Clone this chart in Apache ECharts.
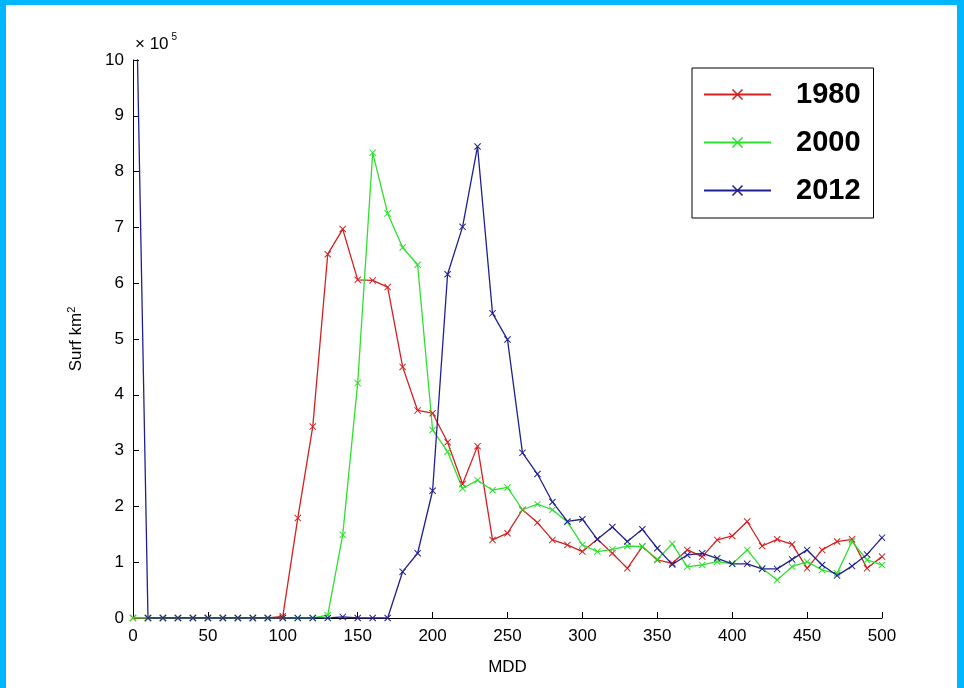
<!DOCTYPE html>
<html>
<head>
<meta charset="utf-8">
<title>Surf vs MDD</title>
<script src="https://cdn.jsdelivr.net/npm/echarts@6/dist/echarts.min.js"></script>
<style>
  html, body { margin: 0; padding: 0; }
  body { width: 964px; height: 688px; background: #00b7ff; position: relative; overflow: hidden; }
  #chart { position: absolute; left: 6px; top: 5px; width: 951px; height: 683px; background: #fff; }
</style>
</head>
<body>
<div id="chart"></div>
<script>
// MDD (x) values
const mdd = [0, 10, 20, 30, 40, 50, 60, 70, 80, 90,
  100, 110, 120, 130, 140, 150, 160, 170, 180, 190,
  200, 210, 220, 230, 240, 250, 260, 270, 280, 290,
  300, 310, 320, 330, 340, 350, 360, 370, 380, 390,
  400, 410, 420, 430, 440, 450, 460, 470, 480, 490, 500]

// surfaces, unit 1e5 km2
const surf1980 = [0, 0, 0, 0, 0, 0, 0, 0, 0, 0,
  0.03, 1.79, 3.43, 6.52, 6.97, 6.06, 6.05, 5.93, 4.50, 3.72,
  3.67, 3.15, 2.40, 3.08, 1.40, 1.52, 1.94, 1.71, 1.40, 1.31,
  1.19, 1.41, 1.16, 0.89, 1.28, 1.04, 0.98, 1.22, 1.10, 1.40,
  1.47, 1.73, 1.29, 1.41, 1.32, 0.89, 1.22, 1.37, 1.41, 0.89, 1.10]

const surf2000 = [0, 0, 0, 0, 0, 0, 0, 0, 0, 0,
  0, 0, 0, 0.05, 1.49, 4.21, 8.34, 7.25, 6.64, 6.33,
  3.37, 2.98, 2.32, 2.47, 2.29, 2.34, 1.94, 2.04, 1.94, 1.72,
  1.31, 1.19, 1.23, 1.29, 1.28, 1.05, 1.33, 0.92, 0.95, 1.01,
  0.97, 1.22, 0.89, 0.68, 0.92, 1.01, 0.86, 0.80, 1.37, 1.04, 0.95]

const surf2012 = [14.3, 0, 0, 0, 0, 0, 0, 0, 0, 0,
  0, 0, 0, 0, 0.02, 0, 0, 0, 0.83, 1.16,
  2.28, 6.16, 7.01, 8.45, 5.46, 4.99, 2.96, 2.58, 2.08, 1.73,
  1.77, 1.41, 1.63, 1.37, 1.59, 1.25, 0.96, 1.13, 1.16, 1.07,
  0.97, 0.97, 0.88, 0.88, 1.05, 1.22, 0.95, 0.76, 0.93, 1.14, 1.44]

const seriesNames = ['1980', '2000', '2012']
const seriesColors = ['#d42020', '#2ee02e', '#20208e']
const xTicks = [0, 50, 100, 150, 200, 250, 300, 350, 400, 450, 500]

// x shaped marker (filled outline so it shows at small sizes)
const crossSymbol = 'path://M0,1L1,0L5,4L9,0L10,1L6,5L10,9L9,10L5,6L1,10L0,9L4,5Z'

const chart = echarts.init(document.getElementById('chart'))

const toPairs = vals => mdd.map((x, i) => [x, vals[i]])

const allData = [surf1980, surf2000, surf2012]
const seriesArr = allData.map((vals, i) => {
  return {
    name: seriesNames[i],
    type: 'line',
    data: toPairs(vals),
    symbol: crossSymbol,
    symbolSize: 7,
    showAllSymbol: true,
    clip: true,
    lineStyle: { color: seriesColors[i], width: 1.3 },
    itemStyle: { color: seriesColors[i] },
    emphasis: { disabled: true },
    animation: false
  }
})

const axisFont = { fontFamily: 'Liberation Sans, Arial, sans-serif', fontSize: 17, color: '#000' }

chart.setOption({
  backgroundColor: '#fff',
  animation: false,
  title: {
    text: '× 10{s|5}',
    left: 124,
    top: 22,
    textStyle: {
      fontFamily: 'Liberation Sans, Arial, sans-serif',
      fontSize: 17,
      fontWeight: 'normal',
      color: '#000',
      rich: {
        s: { fontSize: 10, verticalAlign: 'top', padding: [0, 0, 14, 3], color: '#000' }
      }
    }
  },
  legend: {
    orient: 'vertical',
    left: 686,
    top: 63,
    padding: [12, 13, 13, 11],
    itemWidth: 67,
    itemHeight: 14,
    itemGap: 19,
    borderColor: '#000',
    borderWidth: 1,
    backgroundColor: '#fff',
    textStyle: {
      fontFamily: 'Liberation Sans, Arial, sans-serif',
      fontSize: 29,
      fontWeight: 'bold',
      color: '#000',
      lineHeight: 28,
      padding: [0, 0, 0, 20]
    },
    data: seriesNames
  },
  grid: { left: 127, right: 75, top: 55, bottom: 70 },
  xAxis: {
    type: 'value',
    min: 0,
    max: 500,
    interval: 50,
    name: 'MDD',
    nameLocation: 'middle',
    nameGap: 41,
    nameTextStyle: axisFont,
    axisLine: { lineStyle: { color: '#000', width: 1 } },
    axisTick: { inside: true, length: 6, lineStyle: { color: '#000' } },
    axisLabel: Object.assign({ margin: 10, customValues: xTicks }, axisFont),
    splitLine: { show: false }
  },
  yAxis: {
    type: 'value',
    min: 0,
    max: 10,
    interval: 1,
    name: 'Surf km{sup|2}',
    nameLocation: 'middle',
    nameRotate: 90,
    nameGap: 46,
    nameTextStyle: Object.assign({
      rich: { sup: { fontSize: 11, verticalAlign: 'top', padding: [0, 0, 10, 0], color: '#000' } }
    }, axisFont),
    axisLine: { show: true, lineStyle: { color: '#000', width: 1 } },
    axisTick: { show: true, inside: true, length: 6, lineStyle: { color: '#000' } },
    axisLabel: Object.assign({ margin: 9 }, axisFont),
    splitLine: { show: false }
  },
  series: seriesArr
})
</script>
</body>
</html>
